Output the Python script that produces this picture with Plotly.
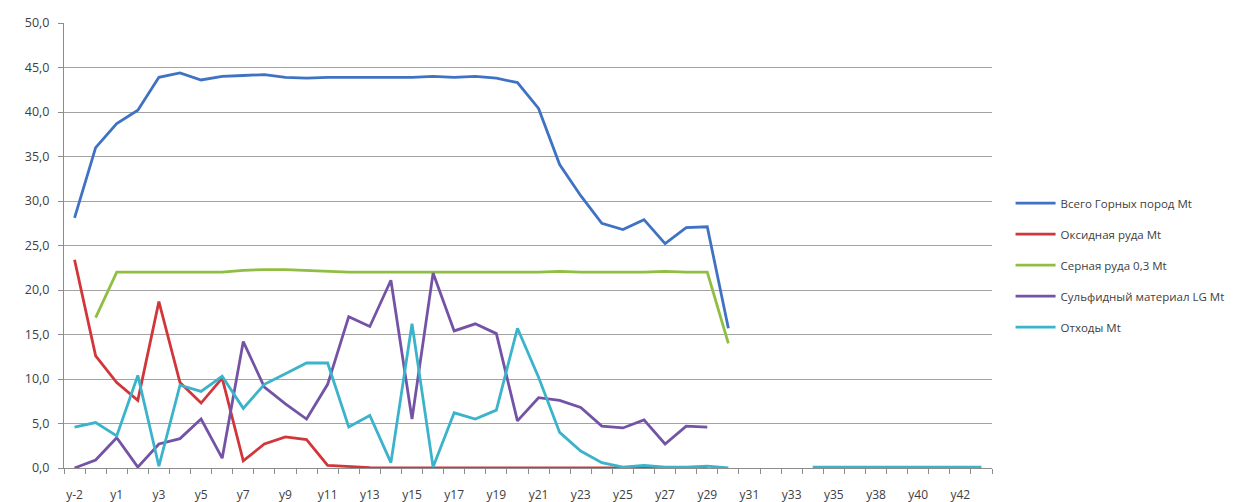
import plotly.graph_objects as go

categories = ["y-2", "y-1", "y1", "y2", "y3", "y4", "y5", "y6", "y7", "y8", "y9", "y10",
              "y11", "y12", "y13", "y14", "y15", "y16", "y17", "y18", "y19", "y20", "y21",
              "y22", "y23", "y24", "y25", "y26", "y27", "y28", "y29", "y30", "y31", "y32",
              "y33", "y34", "y35", "y37", "y38", "y39", "y40", "y41", "y42", "y43"]

y_ticks = [0, 5, 10, 15, 20, 25, 30, 35, 40, 45, 50]
y_tick_labels = ["0,0", "5,0", "10,0", "15,0", "20,0", "25,0", "30,0", "35,0", "40,0",
                 "45,0", "50,0"]

total_rock = [28.1, 36.0, 38.7, 40.2, 43.9, 44.4, 43.6, 44.0, 44.1, 44.2, 43.9, 43.8,
              43.9, 43.9, 43.9, 43.9, 43.9, 44.0, 43.9, 44.0, 43.8, 43.3, 40.4, 34.1,
              30.6, 27.5, 26.8, 27.9, 25.2, 27.0, 27.1, 15.7]

oxide_ore = [23.4, 12.6, 9.6, 7.6, 18.7, 9.6, 7.3, 10.1, 0.8, 2.7, 3.5, 3.2, 0.3, 0.15,
             0.05, 0.0, 0.0, 0.0, 0.0, 0.0, 0.0, 0.0, 0.0, 0.0, 0.0, 0.0, 0.0, 0.0, 0.0,
             0.0, 0.0]

sulfur_ore = [None, 16.9, 22.0, 22.0, 22.0, 22.0, 22.0, 22.0, 22.2, 22.3, 22.3, 22.2,
              22.1, 22.0, 22.0, 22.0, 22.0, 22.0, 22.0, 22.0, 22.0, 22.0, 22.0, 22.1,
              22.0, 22.0, 22.0, 22.0, 22.1, 22.0, 22.0, 14.0]

sulfide_lg = [0.0, 0.9, 3.4, 0.1, 2.7, 3.3, 5.5, 1.1, 14.2, 9.1, 7.2, 5.5, 9.4, 17.0,
              15.9, 21.1, 5.5, 21.9, 15.4, 16.2, 15.1, 5.3, 7.9, 7.6, 6.8, 4.7, 4.5,
              5.4, 2.7, 4.7, 4.6]

waste = [4.6, 5.1, 3.6, 10.4, 0.2, 9.3, 8.6, 10.3, 6.7, 9.4, 10.6, 11.8, 11.8, 4.6,
         5.9, 0.6, 16.2, 0.1, 6.2, 5.5, 6.5, 15.7, 10.2, 4.0, 1.9, 0.6, 0.1, 0.3, 0.1,
         0.1, 0.2, 0.0, None, None, None, 0.1, 0.1, 0.1, 0.1, 0.1, 0.1, 0.1, 0.1, 0.1]

series = [
    ("Всего Горных пород Mt", total_rock, "#3F72C2"),
    ("Оксидная руда Mt", oxide_ore, "#D0363A"),
    ("Серная руда 0,3 Mt", sulfur_ore, "#8FBE42"),
    ("Сульфидный материал LG Mt", sulfide_lg, "#7453A6"),
    ("Отходы Mt", waste, "#3AB3CB"),
]

fig = go.Figure()
for i, (name, vals, color) in enumerate(series):
    fig.add_trace(go.Scatter(
        x=categories[:len(vals)], y=vals, name=name, mode="lines",
        line=dict(color=color, width=2.8), connectgaps=False,
        legendgroup=f"g{i}",
    ))

ticktext = [c if k % 2 == 0 else "" for k, c in enumerate(categories)]

fig.update_layout(
    width=1259, height=502,
    margin=dict(l=56, r=275, t=15, b=42, autoexpand=False),
    paper_bgcolor="white", plot_bgcolor="white",
    font=dict(family="Open Sans, Liberation Sans, sans-serif", size=11, color="#404040"),
    showlegend=True,
    legend=dict(
        x=1.02, y=0.456, xanchor="left", yanchor="middle",
        traceorder="grouped", tracegroupgap=12, itemwidth=40,
        font=dict(size=11.5, color="#404040"),
        bgcolor="rgba(0,0,0,0)",
    ),
)

fig.update_xaxes(
    type="category", categoryorder="array", categoryarray=categories,
    range=[-0.5, len(categories) - 0.5],
    tickmode="array", tickvals=categories, ticktext=ticktext,
    tickson="boundaries", ticks="outside", ticklen=5, tickcolor="#8c8c8c",
    ticklabelstandoff=16, automargin=False,
    showline=True, linecolor="#8c8c8c", linewidth=1,
    showgrid=False, tickangle=0,
    tickfont=dict(size=12, color="#404040"),
)

fig.update_yaxes(
    range=[0, 50], tickmode="array", tickvals=y_ticks, ticktext=y_tick_labels,
    showgrid=True, gridcolor="#a3a3a3", gridwidth=1,
    showline=True, linecolor="#8c8c8c", linewidth=1,
    ticks="outside", ticklen=5, tickcolor="#8c8c8c",
    ticklabelstandoff=6, automargin=False,
    zeroline=False,
    tickfont=dict(size=12.5, color="#404040"),
)

fig.write_html("out.html")
